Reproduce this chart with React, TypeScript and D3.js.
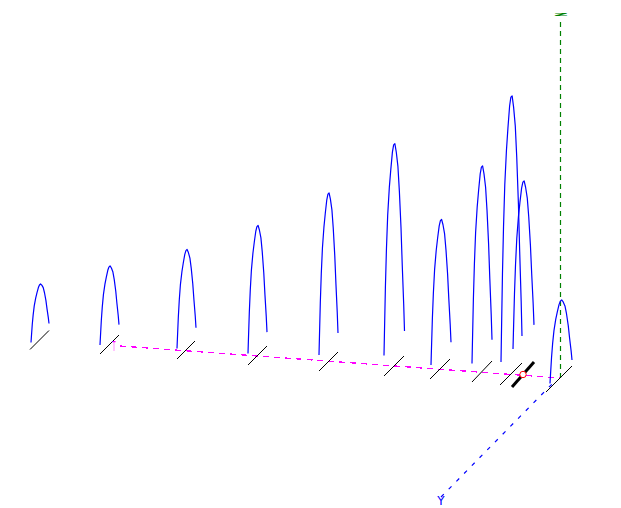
import React from "react";
import * as d3 from "d3";

// Peak table, one entry per sample along the time axis
const retention = [0, 70, 147, 218, 289, 354, 400, 442, 470, 482, 516];
const level = [42.5, 38, 33, 27, 21, 16, 13, 10, 7, 5, 0];
const tickDepth = [19, 19, 18, 19, 19, 20, 20, 20, 22, 22, 26];
const tickRise = [19, 19, 18, 19, 19, 20, 20, 21, 22, 25, 26];
const peakDepth = [18, 19, 19, 19, 19, 20.5, 20, 20, 21, 21, 22];
const peakOffset = [1, 0, 0, 0, 0, 0, 1, 0, 1, 1, 4];
const peakLift = [7, 9, 10.5, 11.5, 16, 20.5, 14, 18.5, 23, 38, 8.5];
const peakHeight = [49, 69, 89, 118, 152, 201, 135, 187, 255, 157, 72];
const selectedIndex = 9;

// Normalised peak outline: [across, height]
const profileAcross = [0, 0.02, 0.07, 0.12, 0.18, 0.26, 0.33, 0.41, 0.47, 0.53, 0.6, 0.68, 0.75, 0.83, 0.89, 0.96, 1];
const profileHeight = [0, 0.1, 0.34, 0.52, 0.68, 0.81, 0.89, 0.97, 1, 1, 0.95, 0.87, 0.74, 0.55, 0.36, 0.16, 0.02];

// Axis end points in the same units as the peaks
const timeAxis: [number, number][] = [[90, 46], [530, 14]];
const depthAxis: [number, number][] = [[411, -105], [526, 12]];
const heightAxis: [number, number][] = [[530.5, 14], [530.5, 374]];

const W = 621;
const H = 508;
const xScale = d3.scaleLinear().domain([0, 516]).range([30, 546]);
const yScale = d3.scaleLinear().domain([0, 100]).range([392, 292]);
const pathOf = d3.line<[number, number]>().x((d) => xScale(d[0])).y((d) => yScale(d[1]));

export default function App() {
  const peaks = retention.map((r, i) => {
    const pts: [number, number][] = profileAcross.map((s, k) => {
      const across = s * peakDepth[i];
      return [
        r + peakOffset[i] + across,
        level[i] + peakLift[i] + across + profileHeight[k] * peakHeight[i],
      ];
    });
    return pathOf(pts) as string;
  });
  const ticks = retention.map((r, i) =>
    pathOf([[r, level[i]], [r + tickDepth[i], level[i] + tickRise[i]]]) as string
  );
  const sel = [
    xScale(retention[selectedIndex] + tickDepth[selectedIndex] / 2),
    yScale(level[selectedIndex] + tickRise[selectedIndex] / 2),
  ];
  return (
    <svg
      width={W}
      height={H}
      viewBox={`0 0 ${W} ${H}`}
      style={{ position: "absolute", left: 0, top: 0, background: "#fff" }}
    >
      <path d={pathOf(heightAxis) as string} fill="none" stroke="#008000" strokeWidth={1.2} strokeDasharray="5 4" />
      <path d={pathOf(timeAxis) as string} fill="none" stroke="#ff00ff" strokeWidth={1.3} strokeDasharray="6 5" shapeRendering="crispEdges" />
      <path d={pathOf(depthAxis) as string} fill="none" stroke="#0000ff" strokeWidth={1.2} strokeDasharray="4 7" />
      {ticks.map((d, i) => (
        <path key={i} d={d} fill="none" stroke="#000" strokeWidth={i === selectedIndex ? 3 : 1} />
      ))}
      {peaks.map((d, i) => (
        <path key={i} d={d} fill="none" stroke="#0000ff" strokeWidth={1.2} strokeLinejoin="round" />
      ))}
      <circle cx={sel[0]} cy={sel[1]} r={3.2} fill="#fff" stroke="#ff0000" strokeWidth={1} />
      <text
        transform="translate(441,505)"
        textAnchor="middle"
        fontFamily="DejaVu Sans"
        fontSize={12}
        fill="#0000ff"
      >
        Y
      </text>
      <text
        transform="translate(561,16) scale(1.6,0.3)"
        textAnchor="middle"
        fontFamily="DejaVu Sans"
        fontSize={12}
        fontWeight="bold"
        fill="#008000"
      >
        Z
      </text>
      <text
        transform="translate(114,351) scale(0.35,1)"
        textAnchor="middle"
        fontFamily="DejaVu Sans"
        fontSize={14}
        fill="#ff00ff"
      >
        T
      </text>
    </svg>
  );
}
